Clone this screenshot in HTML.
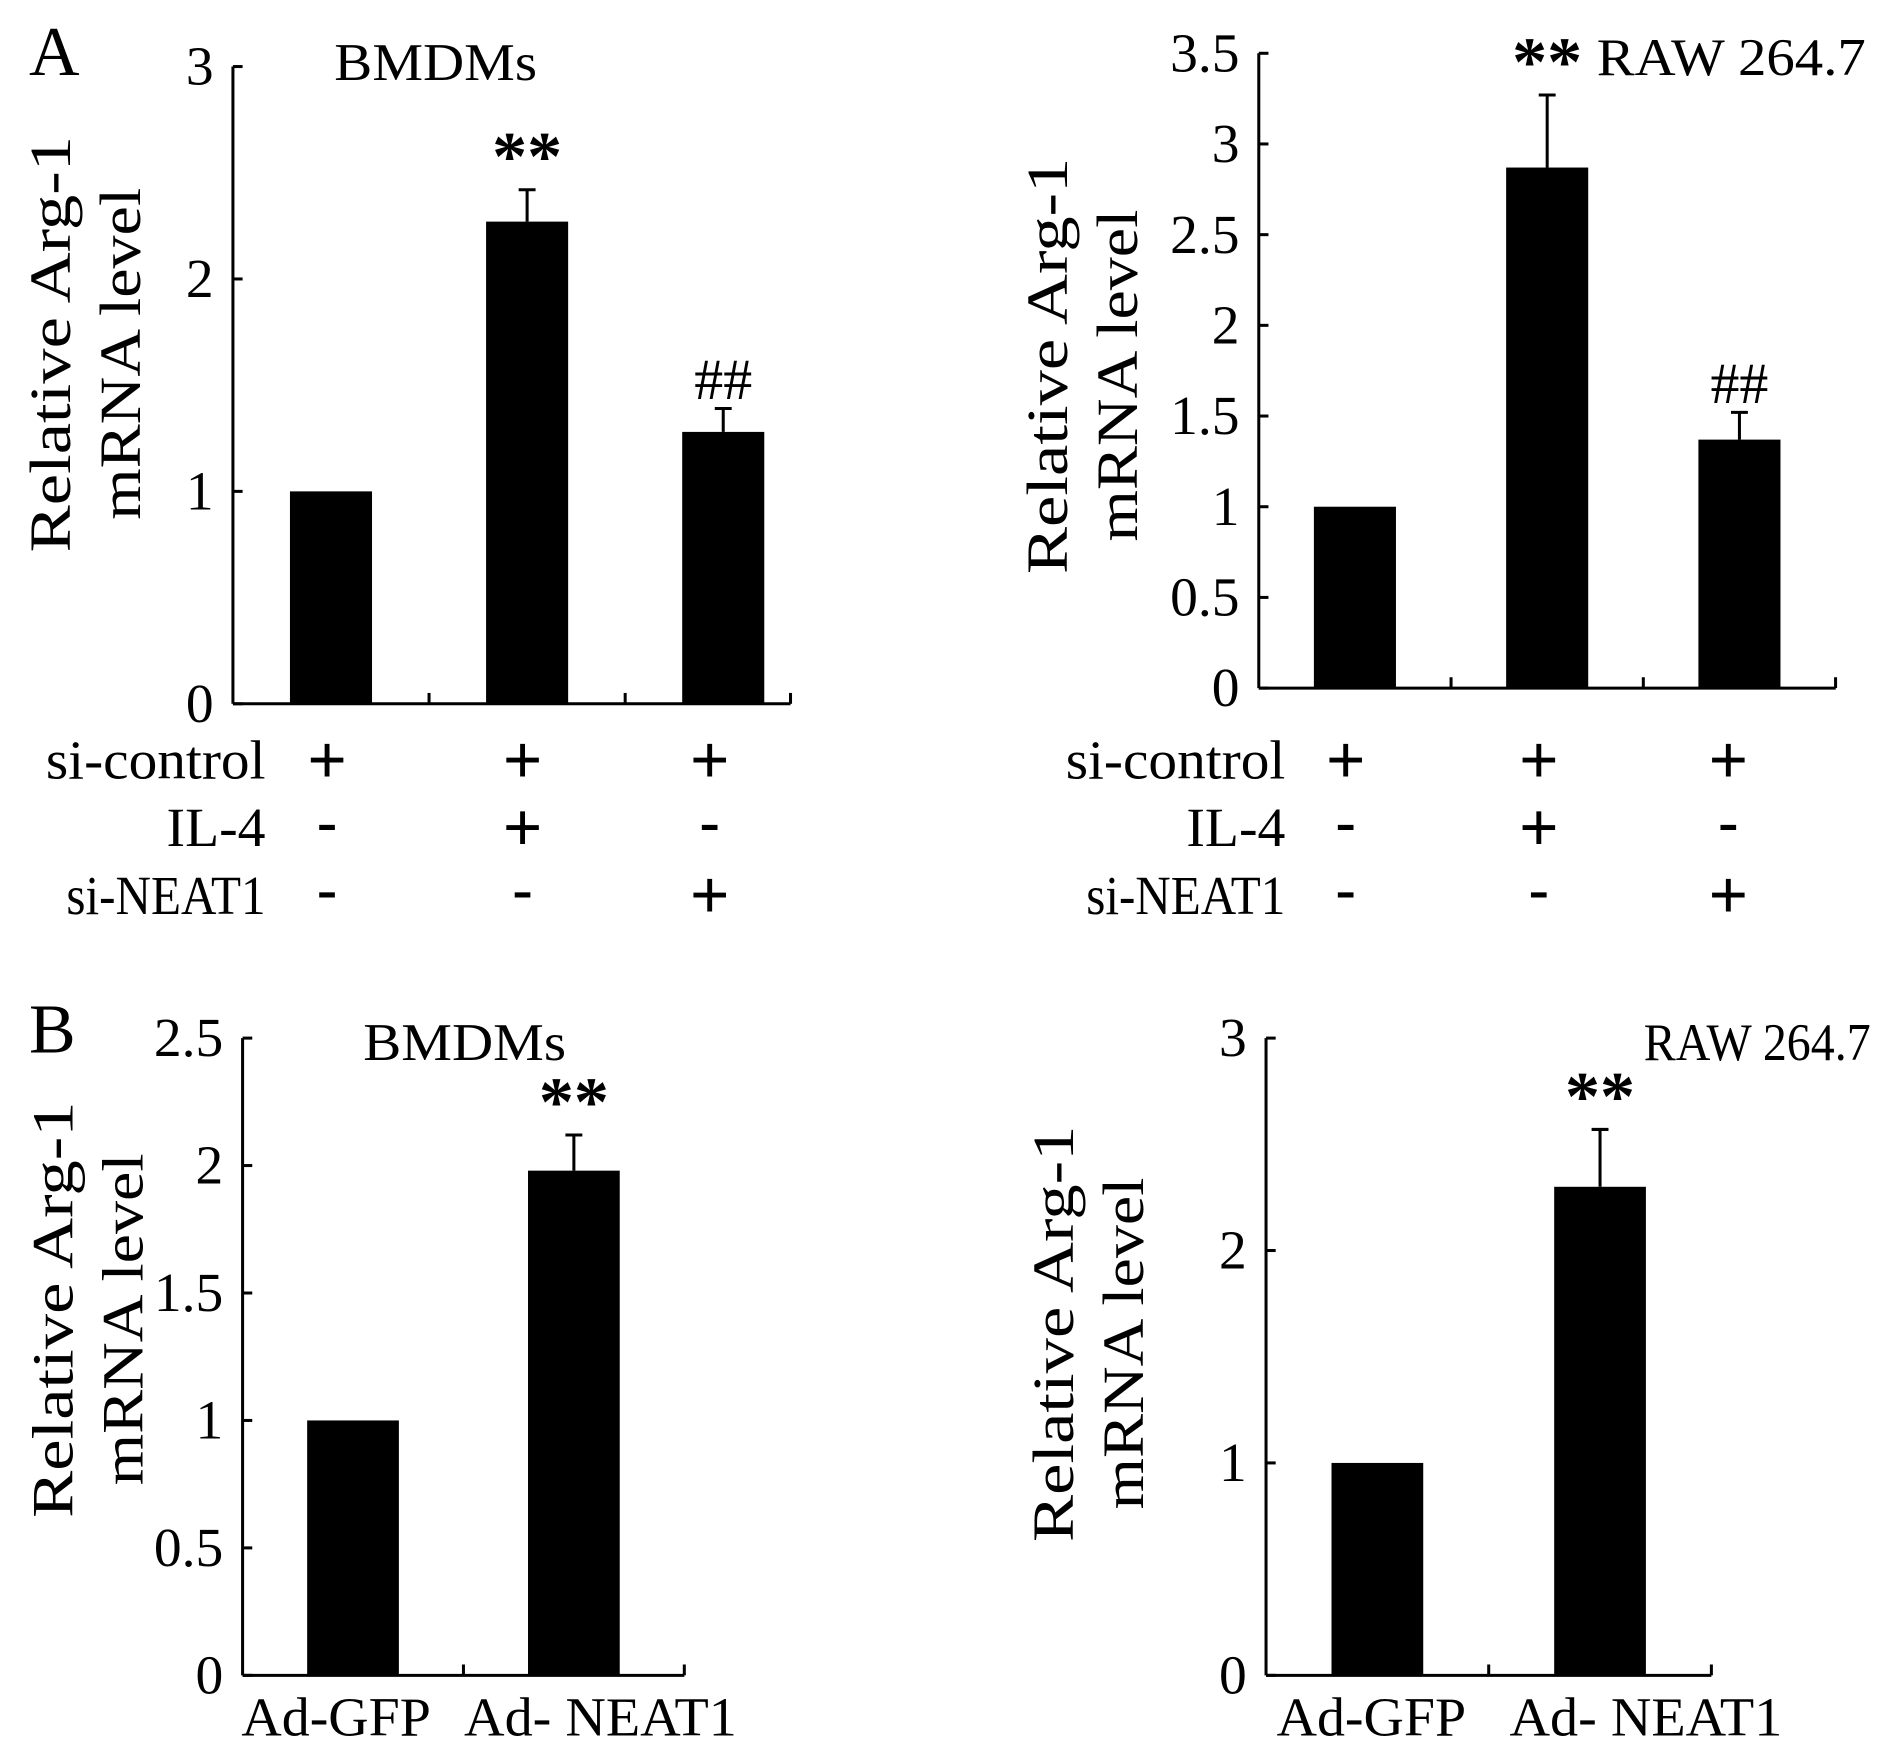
<!DOCTYPE html>
<html><head><meta charset="utf-8">
<style>html,body{margin:0;padding:0;background:#fff}svg{display:block}text{font-family:"Liberation Serif",serif;fill:#000}</style>
</head><body>
<svg id="fig" width="1890" height="1760" viewBox="0 0 1566 1458" xmlns="http://www.w3.org/2000/svg">
<text x="24" y="62" font-size="58">A</text>
<text x="24" y="872" font-size="58">B</text>
</svg>
<script>
const aLeftValues = [1, 2.27, 1.28];
const aLeftErrors = [0, 0.15, 0.11];
const aLeftTicks = ["0", "1", "2", "3"];
const aRightValues = [1, 2.87, 1.37];
const aRightErrors = [0, 0.40, 0.15];
const aRightTicks = ["0", "0.5", "1", "1.5", "2", "2.5", "3", "3.5"];
const bLeftValues = [1, 1.98];
const bLeftErrors = [0, 0.14];
const bLeftTicks = ["0", "0.5", "1", "1.5", "2", "2.5"];
const bRightValues = [1, 2.3];
const bRightErrors = [0, 0.27];
const bRightTicks = ["0", "1", "2", "3"];
const aRowLabels = ["si-control", "IL-4", "si-NEAT1"];
const aSigns = [["+","+","+"],["-","+","-"],["-","-","+"]];
const aMarks = ["", "**", "##"];
const bCategories = ["Ad-GFP", "Ad- NEAT1"];
const bMarks = ["", "**"];

const svg = document.getElementById('fig');
const NS = 'http://www.w3.org/2000/svg';
function mk(tag, attrs, txt) {
  const e = document.createElementNS(NS, tag);
  for (const k in attrs) e.setAttribute(k, attrs[k]);
  if (txt !== undefined) e.textContent = txt;
  svg.appendChild(e);
  return e;
}
function panel(p) {
  const max = parseFloat(p.ticks[p.ticks.length - 1]);
  const y = v => p.y0 - (v / max) * (p.y0 - p.yTop);
  let e = mk('line', {x1:p.ax, y1:p.yTop, x2:p.ax, y2:p.y0, stroke:'#000','stroke-width':2.5});
  
  
  e = mk('line', {x1:p.ax, y1:p.y0, x2:p.xEnd, y2:p.y0, stroke:'#000','stroke-width':2.5});
  
  
  p.ticks.forEach(t => {
    const ty = y(parseFloat(t));
    mk('line', {x1:p.ax, y1:ty, x2:p.ax + 8, y2:ty, stroke:'#000','stroke-width':2.5});
    e = mk('text', {x:p.ax - 16, y:ty + 15, 'font-size':46, 'text-anchor':'end'}, t);
    
    
  });
  const n = p.values.length;
  const slot = p.slot;
  for (let i = 1; i <= n; i++) {
    const tx = Math.min(p.ax + slot * i, p.xEnd);
    mk('line', {x1:tx, y1:p.y0, x2:tx, y2:p.y0 - 9, stroke:'#000','stroke-width':2.5});
  }
  p.values.forEach((v, i) => {
    const cx = p.ax + slot * (i + 0.5);
    const top = y(v);
    e = mk('rect', {x:cx - p.bw / 2, y:top, width:p.bw, height:p.y0 - top, fill:'#000'});
    
    
    if (p.errors[i] > 0) {
      const et = y(v + p.errors[i]);
      mk('line', {x1:cx, y1:top, x2:cx, y2:et, stroke:'#000','stroke-width':2.5});
      mk('line', {x1:cx - 7, y1:et, x2:cx + 7, y2:et, stroke:'#000','stroke-width':2.5});
      const m = p.marks[i];
      if (m) {
        const isStar = m === '**';
        e = mk('text', {x:cx, y:et - 8, 'font-size':isStar ? 58 : 48, 'font-weight':isStar ? 'bold' : 'normal', 'text-anchor':'middle'}, m);
        
        
      }
    }
  });
  e = mk('text', {x:p.titleX, y:p.titleY, 'font-size':44, 'text-anchor':p.titleAnchor, textLength:p.titleLen, lengthAdjust:'spacingAndGlyphs'}, p.title);
  
  
  const ycy = p.ycy;
  e = mk('text', {x:0, y:0, 'font-size':48, 'text-anchor':'middle', textLength:345, lengthAdjust:'spacingAndGlyphs', transform:`translate(${p.ylx},${ycy}) rotate(-90)`}, 'Relative Arg-1');
  
  
  e = mk('text', {x:0, y:0, 'font-size':48, 'text-anchor':'middle', textLength:275, lengthAdjust:'spacingAndGlyphs', transform:`translate(${p.ylx + 58},${ycy + 8}) rotate(-90)`}, 'mRNA level');
  
  
  if (p.rows) {
    const lens = [182, 82, 165];
    p.rows.forEach((r, ri) => {
      const ry = 645 + ri * 56;
      e = mk('text', {x:p.ax + p.rowLabelDx, y:ry, 'font-size':46, 'text-anchor':'end', textLength:lens[ri], lengthAdjust:'spacingAndGlyphs'}, r);
      
      
      p.signs[ri].forEach((s, i) => {
        const cx = p.ax + p.signX[i];
        e = mk('text', {x:cx, y:ry + (s === '-' ? -4 : 4), 'font-size':s === '-' ? 50 : 58, 'font-weight':'bold', 'text-anchor':'middle'}, s === '-' ? '-' : '+');
        
        
      });
    });
  } else {
    const lens = [157, 226];
    p.cats.forEach((c, i) => {
      const cx = p.ax + slot * (i + 0.5) + p.labelDx[i];
      e = mk('text', {x:cx, y:p.y0 + 50, 'font-size':46, 'text-anchor':'middle', textLength:lens[i], lengthAdjust:'spacingAndGlyphs'}, c);
      
      
    });
  }
}
panel({id:'a-left', ax:193, yTop:55, y0:583, xEnd:655, slot:162.5, bw:68, values:aLeftValues, errors:aLeftErrors, ticks:aLeftTicks, marks:aMarks,
  title:'BMDMs', titleX:361, titleY:66, titleAnchor:'middle', titleLen:168, ylx:58, ycy:285,
  rows:aRowLabels, signs:aSigns, rowLabelDx:27, signX:[78, 240, 395]});
panel({id:'a-right', ax:1043, yTop:44, y0:570, xEnd:1521, slot:159.3, bw:68, values:aRightValues, errors:aRightErrors, ticks:aRightTicks, marks:aMarks,
  title:'RAW 264.7', titleX:1546, titleY:62, titleAnchor:'end', titleLen:223, ylx:884, ycy:303,
  rows:aRowLabels, signs:aSigns, rowLabelDx:22, signX:[72, 232, 389]});
panel({id:'b-left', ax:201, yTop:860, y0:1388, xEnd:567, slot:183, bw:76, values:bLeftValues, errors:bLeftErrors, ticks:bLeftTicks, marks:bMarks,
  title:'BMDMs', titleX:385, titleY:878, titleAnchor:'middle', titleLen:168, ylx:60, ycy:1085, cats:bCategories, labelDx:[-14, 22]});
panel({id:'b-right', ax:1049, yTop:860, y0:1388, xEnd:1418, slot:184.5, bw:76, values:bRightValues, errors:bRightErrors, ticks:bRightTicks, marks:bMarks,
  title:'RAW 264.7', titleX:1550, titleY:878, titleAnchor:'end', titleLen:188, ylx:889, ycy:1105, cats:bCategories, labelDx:[-5, 38]});
</script>
</body></html>
